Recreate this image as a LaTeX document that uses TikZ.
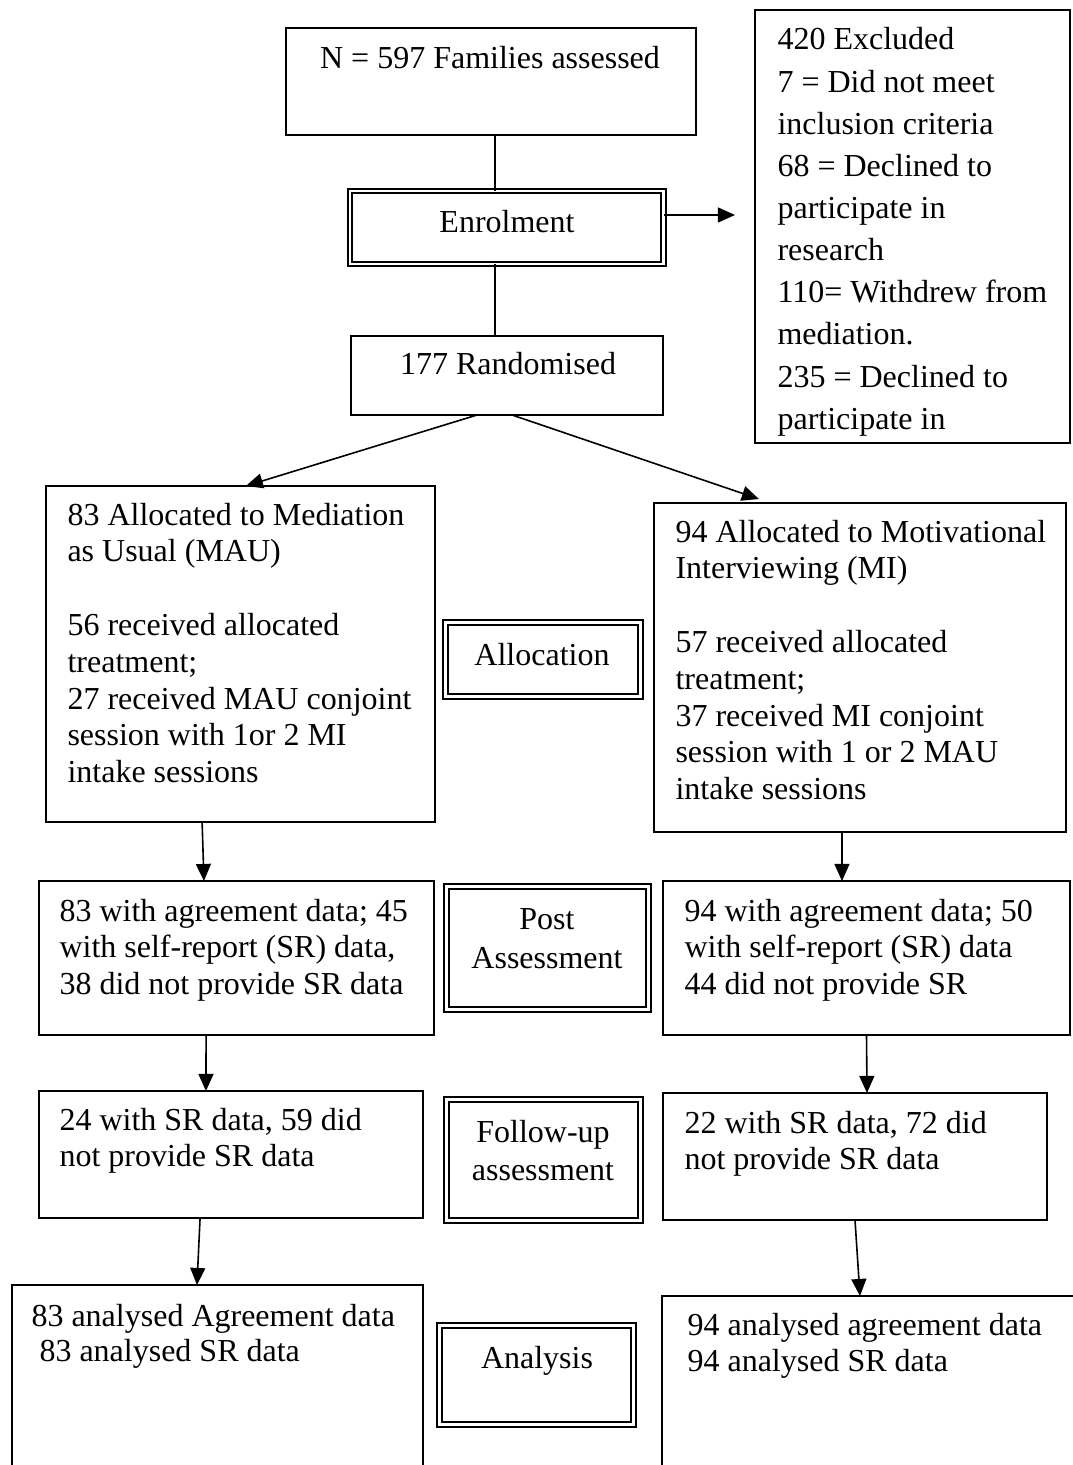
\documentclass[tikz,border=0pt]{standalone}
\usepackage{fontspec}
\setmainfont{Liberation Serif}
\usetikzlibrary{arrows.meta,fit}
\tikzstyle{box} = [draw,line width=0.7pt,inner sep=0pt,outer sep=0pt]
\tikzstyle{stage box} = [draw,double,line width=0.75pt,double distance=1.1pt,inner sep=0pt,outer sep=0pt]
\tikzstyle{edge} = [draw,line width=0.6pt,-]

\begin{document}
\begin{tikzpicture}
[x=0.375pt,y={(0pt,-0.375pt)},
lineDecorateout/.style={-{Triangle[length=6.4pt,width=5.6pt]},line width=0.6pt}, %
boxtext/.style={anchor=base west,inner sep=0pt,align=flush left,text width=160pt,font=\fontsize{12}{13.8}\selectfont}, %
stagetext/.style={anchor=base,inner sep=0pt,align=center,font=\fontsize{12}{14.4}\selectfont}]
\useasboundingbox (0,0) rectangle (1072,1465);

%% plain boxes
\foreach \nodename/\xa/\ya/\xb/\yb in {
top/286/28/696/135, excl/755/10/1070/443, rand/351/336/663/415,
mau/46/486/435/822, mi/654/503/1066/832,
postl/39/881/434/1035, postr/663/881/1070/1035,
fupl/39/1091/423/1218, fupr/663/1093/1047/1220,
anal/12/1285/423/1490, anar/662/1296/1090/1490}
{
\node (\nodename) [box,fit={(\xa,\ya) (\xb,\yb)}] {};
}

%% stage boxes (double frame)
\foreach \nodename/\xa/\ya/\xb/\yb in {
enrol/350/191/663.5/264, alloc/445.5/622.5/640.5/696.5,
post/446.5/886.5/648.5/1009.5, fup/446.5/1099.5/640.5/1220.5,
analysis/439.5/1325.5/633.5/1424.5}
{
\node (\nodename) [stage box,fit={(\xa,\ya) (\xb,\yb)}] {};
}

%% texts (multi-line stage texts sit on their last line)
\node (topT) [stagetext] at (490,69) {N = 597 Families assessed};
\node (enrolT) [stagetext] at (507,233) {Enrolment};
\node (randT) [stagetext] at (508,375) {177 Randomised};
\node (exclT) [boxtext,font=\fontsize{12}{15.8}\selectfont] at (777,50)
{420 Excluded\\7 = Did not meet\\inclusion criteria\\68 = Declined to\\participate in\\research\\110= Withdrew from\\mediation.\\235 = Declined to\\participate in};
\node (mauT) [boxtext] at (67,525)
{83 Allocated to Mediation\\as Usual (MAU)\\[13.8pt]56 received allocated\\treatment;\\27 received MAU conjoint\\session with 1or 2 MI\\intake sessions};
\node (miT) [boxtext] at (675,542)
{94 Allocated to Motivational\\Interviewing (MI)\\[13.8pt]57 received allocated\\treatment;\\37 received MI conjoint\\session with 1 or 2 MAU\\intake sessions};
\node (allocT) [stagetext] at (542,665) {Allocation};
\node (postlT) [boxtext] at (59,921)
{83 with agreement data; 45\\with self-report (SR) data,\\38 did not provide SR data};
\node (postT) [stagetext] at (547,968) {Post\\Assessment};
\node (postrT) [boxtext] at (684,921)
{94 with agreement data; 50\\with self-report (SR) data\\44 did not provide SR};
\node (fuplT) [boxtext] at (59,1130) {24 with SR data, 59 did\\not provide SR data};
\node (fupT) [stagetext,font=\fontsize{12}{14}\selectfont] at (543,1180) {Follow-up\\assessment};
\node (fuprT) [boxtext] at (684,1133) {22 with SR data, 72 did\\not provide SR data};
\node (analT) [boxtext,font=\fontsize{12}{13.2}\selectfont] at (31,1326)
{83 analysed Agreement data\\\hspace*{3pt}83 analysed SR data};
\node (analysisT) [stagetext] at (537,1368) {Analysis};
\node (anarT) [boxtext] at (687,1335) {94 analysed agreement data\\94 analysed SR data};

%% edges or lines
\coordinate (exclend) at (735,215);
\draw[edge] ([xshift=1.5pt]top.south) -- ([xshift=1.5pt]top.south |- enrol.north);
\draw[edge] ([xshift=-4.4pt]enrol.south) -- ([xshift=-4.4pt]enrol.south |- rand.north);
\draw[lineDecorateout] (enrol.east |- exclend) -- (exclend);
\draw[lineDecorateout] ([xshift=-11.25pt]rand.south) -- ([xshift=2pt]mau.north);
\draw[lineDecorateout] ([xshift=1.9pt]rand.south) -- ([xshift=-37.9pt,yshift=1.5pt]mi.north);
\draw[lineDecorateout] ([xshift=-14.4pt]mau.south) -- ([xshift=-12.2pt]postl.north);
\draw[lineDecorateout] ([xshift=-6.75pt]mi.south) -- ([xshift=-9.2pt]postr.north);
\draw[lineDecorateout] ([xshift=-11.4pt]postl.south) -- ([xshift=-9.4pt]fupl.north);
\draw[lineDecorateout] (postr.south) -- ([xshift=4.5pt]fupr.north);
\draw[lineDecorateout] ([xshift=-11.6pt]fupl.south) -- ([xshift=-7.7pt]anal.north);
\draw[lineDecorateout] (fupr.south) -- ([xshift=-6pt]anar.north);

\end{tikzpicture}
\end{document}
